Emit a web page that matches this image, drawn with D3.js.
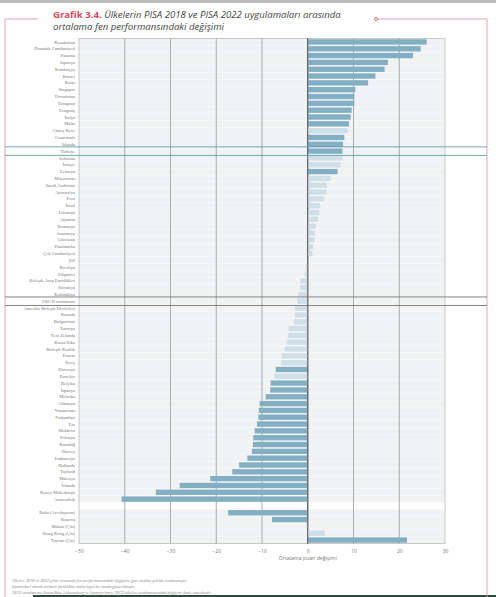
<!DOCTYPE html>
<html>
<head>
<meta charset="utf-8">
<script src="https://cdn.jsdelivr.net/npm/d3@7"></script>
<style>
  body { margin: 0; background: #fff; }
  text { font-family: "Liberation Serif", serif; }
</style>
</head>
<body>
<div id="chart"></div>
<script>
// countries in chart order ("" = gap row)
const countries = ["Kazakistan","Dominik Cumhuriyeti","Panama","Japonya","Kamboçya","Brunei","Katar","Singapur","Hırvatistan","Paraguay","Uruguay","İtalya","Malta","Güney Kore","Guatemala","İrlanda","Türkiye","Sırbistan","İsviçre","Letonya","Macaristan","Suudi Arabistan","Avustralya","Peru","İsrail","Litvanya","Arjantin","Romanya","Avusturya","Gürcistan","Danimarka","Çek Cumhuriyeti","Şili","Brezilya","Filipinler","Birleşik Arap Emirlikleri","Slovakya","Kolombiya","OECD ortalaması","Amerika Birleşik Devletleri","Kanada","Bulgaristan","Estonya","Yeni Zelanda","Kosta Rika","Birleşik Krallık","Fransa","İsveç","Slovenya","Portekiz","Belçika","İspanya","Meksika","Almanya","Yunanistan","Finlandiya","Fas","Moldova","Polonya","Karadağ","Norveç","Endonezya","Hollanda","Tayland","Malezya","İzlanda","Kuzey Makedonya","Arnavutluk","","Bakü (Azerbaycan)","Kosova","Makao (Çin)","Hong Kong (Çin)","Tayvan (Çin)"];
const change = [26,24.7,23,17.5,16.8,14.8,13.2,10.4,10.2,10.2,9.6,9.4,9,8.7,8,7.7,7.6,7.6,7.2,6.5,5,4.2,4.1,3.6,2.7,2.5,2.2,1.8,1.6,1.5,1.2,1.0,0.1,-0.5,-0.7,-1.6,-1.7,-2.1,-2.3,-2.8,-2.8,-3.0,-4.2,-4.3,-4.6,-5,-5.7,-5.8,-7,-7.3,-8.1,-8.2,-9.2,-10.5,-10.7,-10.8,-11.1,-11.6,-11.9,-12,-12.2,-13.2,-15,-16.5,-21.3,-28,-33.2,-40.7,null,-17.4,-7.8,-0.3,3.7,21.7];
// 1 = statistically significant (darker tone)
const significant = [1,1,1,1,1,1,1,1,1,1,1,1,1,0,1,1,1,0,0,1,0,0,0,0,0,0,0,0,0,0,0,0,0,0,0,0,0,0,0,0,0,0,0,0,0,0,0,0,1,0,1,1,1,1,1,1,1,1,1,1,1,1,1,1,1,1,1,1,0,1,1,0,0,1];
const xTicks = [-50,-40,-30,-20,-10,0,10,20,30];
const footnotes = [
  "Ülkeler, 2018 ve 2022 yılları arasında fen performansındaki değişime göre azalan şekilde sıralanmıştır.",
  "İstatistiksel olarak anlamlı farklılıklar daha koyu bir tonda gösterilmiştir.",
  "OECD ortalaması: Kosta Rika, Lüksemburg ve İspanya hariç OECD ülkeleri ortalamasındaki değişimi ifade etmektedir."
];

const W = 496, H = 597;
const svg = d3.select("#chart").append("svg").attr("width", W).attr("height", H);

const x = d3.scaleLinear().domain([-50, 30]).range([79, 445]);
const y = d3.scaleBand().domain(d3.range(countries.length)).range([38.6, 543.4]).paddingInner(0.22).paddingOuter(0.1);

// top grey strip & bottom green bar
svg.append("rect").attr("x", 0).attr("y", 0).attr("width", W).attr("height", 3).attr("fill", "#bbb");
svg.append("rect").attr("x", 33).attr("y", 595).attr("width", W - 33).attr("height", 2).attr("fill", "#2f4a3a");

// pink frame
const pink = "#e8a3ad";
svg.append("path").attr("fill", "none").attr("stroke", pink).attr("stroke-width", 1)
  .attr("d", "M38,19 H5 V597");
svg.append("path").attr("fill", "none").attr("stroke", pink).attr("stroke-width", 1)
  .attr("d", "M376,19 H487 V597");
svg.append("circle").attr("cx", 376).attr("cy", 19).attr("r", 1.5).attr("fill", "#fff").attr("stroke", "#d9475c").attr("stroke-width", 0.8);

// title
const title = svg.append("text").attr("x", 53).attr("y", 18).attr("font-size", 9.6)
  .style("font-family", "'Open Sans', sans-serif").style("font-style", "italic");
title.append("tspan").attr("fill", "#d9475c").style("font-weight", "bold").style("font-style", "normal").text("Grafik 3.4. ");
title.append("tspan").attr("fill", "#444").text("Ülkelerin PISA 2018 ve PISA 2022 uygulamaları arasında");
svg.append("text").attr("x", 53).attr("y", 30).attr("font-size", 9.6).attr("fill", "#444")
  .style("font-family", "'Open Sans', sans-serif").style("font-style", "italic")
  .text("ortalama fen performansındaki değişimi");

// row stripes
const rows = countries.map((c, i) => ({c, v: change[i], s: significant[i], i})).filter(d => d.c !== "");
svg.append("g").selectAll("rect").data(rows).join("rect")
  .attr("x", x(-50)).attr("width", x(30) - x(-50))
  .attr("y", d => y(d.i) - 0.6).attr("height", y.bandwidth() + 1.2)
  .attr("fill", "#f1f2f3");

// vertical grid
svg.append("g").selectAll("line").data(xTicks).join("line")
  .attr("x1", d => x(d)).attr("x2", d => x(d))
  .attr("y1", 38).attr("y2", 544)
  .attr("stroke", d => d === 0 ? "#555" : (d === -50 || d === 30 ? "#bbb" : "#999"))
  .attr("stroke-width", d => d === 0 ? 1 : 0.8);
svg.append("line").attr("x1", x(-50)).attr("x2", x(30)).attr("y1", 38.5).attr("y2", 38.5).attr("stroke", "#bbb").attr("stroke-width", 0.8);
svg.append("line").attr("x1", x(-50)).attr("x2", x(30)).attr("y1", 543.5).attr("y2", 543.5).attr("stroke", "#bbb").attr("stroke-width", 0.8);

// bars
svg.append("g").selectAll("rect").data(rows).join("rect")
  .attr("x", d => x(Math.min(0, d.v)))
  .attr("width", d => Math.abs(x(d.v) - x(0)))
  .attr("y", d => y(d.i)).attr("height", y.bandwidth())
  .attr("fill", d => d.s ? "#82afc3" : "#cfdfe8");

// zero line on top
svg.append("line").attr("x1", x(0)).attr("x2", x(0)).attr("y1", 38).attr("y2", 544).attr("stroke", "#555").attr("stroke-width", 0.8);

// highlight lines for Türkiye and OECD
function highlight(name, color) {
  const i = countries.indexOf(name);
  [y(i) - 1.6, y(i) + y.bandwidth() + 1.6].forEach(yy => {
    svg.append("line").attr("x1", 5).attr("x2", 487).attr("y1", yy).attr("y2", yy)
      .attr("stroke", color).attr("stroke-width", 0.9);
  });
}
highlight("Türkiye", "#5e9fb0");
highlight("OECD ortalaması", "#777");

// category labels
svg.append("g").selectAll("text").data(rows).join("text")
  .attr("x", 75).attr("y", d => y(d.i) + y.bandwidth() / 2)
  .attr("dy", "0.35em").attr("text-anchor", "end")
  .attr("font-size", 4.6).attr("fill", "#777").text(d => d.c);

// x axis
const xAxis = svg.append("g").attr("transform", "translate(0,546)")
  .call(d3.axisBottom(x).tickValues(xTicks).tickSize(0).tickPadding(3));
xAxis.select(".domain").remove();
xAxis.selectAll("text").attr("font-size", 5).attr("fill", "#777").style("font-family", "'Open Sans', sans-serif");
svg.append("text").attr("x", x(0)).attr("y", 560).attr("text-anchor", "middle")
  .attr("font-size", 5.2).attr("fill", "#777").style("font-family", "'Open Sans', sans-serif")
  .text("Ortalama puan değişimi");

// footnotes
svg.append("g").selectAll("text").data(footnotes).join("text")
  .attr("x", 12).attr("y", (d, i) => 582 + i * 5.8)
  .attr("font-size", 3.9).attr("fill", "#888").style("font-style", "italic")
  .style("font-family", "'Open Sans', sans-serif").text(d => d);
</script>
</body>
</html>
